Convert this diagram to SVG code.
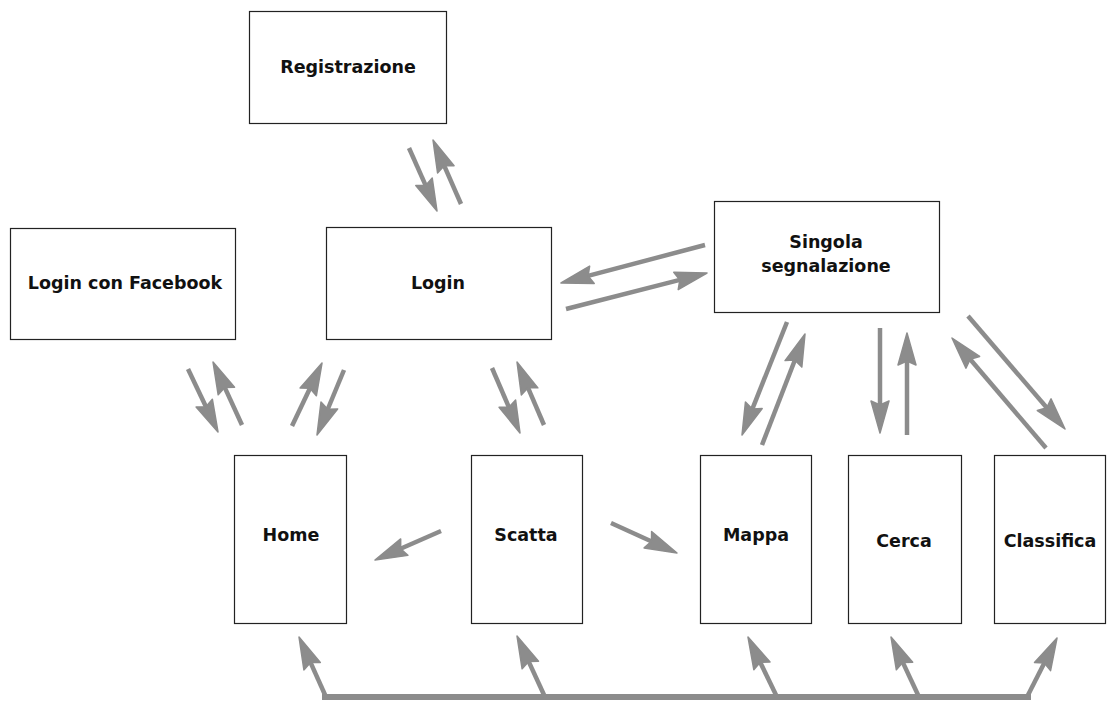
<svg xmlns="http://www.w3.org/2000/svg" xmlns:xlink="http://www.w3.org/1999/xlink" width="1111" height="708" viewBox="0 0 1111 708">
<style>
.box{fill:#fff;stroke:#222;stroke-width:1.2}
.lbl{font-family:"DejaVu Sans",sans-serif;font-weight:bold;font-size:17.5px;fill:#111;text-anchor:middle;dominant-baseline:central}
.arr{stroke:#8c8c8c;stroke-width:4.5;fill:none}
.bus{stroke:#8c8c8c;stroke-width:6;fill:none;stroke-linecap:square}
.hd{fill:#8c8c8c;stroke:#8c8c8c;stroke-width:1.5;stroke-linejoin:round}
</style>
<defs>
<polygon id="head" class="hd" points="0,0 -32,-9 -28,0 -32,9"/>
</defs>
<rect width="1111" height="708" fill="#fff"/>
<g id="connectors">
<line class="arr" x1="409" y1="148" x2="426.4" y2="187.2"/><use href="#head" xlink:href="#head" transform="translate(437,211) rotate(66.05)"/>
<line class="arr" x1="461" y1="204" x2="443.4" y2="163.8"/><use href="#head" xlink:href="#head" transform="translate(433,140) rotate(-113.6)"/>
<line class="arr" x1="188" y1="369" x2="206.8" y2="408.5"/><use href="#head" xlink:href="#head" transform="translate(218,432) rotate(64.5)"/>
<line class="arr" x1="242" y1="425" x2="223.9" y2="385.6"/><use href="#head" xlink:href="#head" transform="translate(213,362) rotate(-114.7)"/>
<line class="arr" x1="292" y1="426" x2="310.8" y2="386.5"/><use href="#head" xlink:href="#head" transform="translate(322,363) rotate(-64.5)"/>
<line class="arr" x1="344" y1="370" x2="327" y2="411"/><use href="#head" xlink:href="#head" transform="translate(317,435) rotate(112.6)"/>
<line class="arr" x1="492" y1="368" x2="509.7" y2="409.1"/><use href="#head" xlink:href="#head" transform="translate(520,433) rotate(66.7)"/>
<line class="arr" x1="544" y1="425" x2="527.2" y2="385.9"/><use href="#head" xlink:href="#head" transform="translate(517,362) rotate(-113.2)"/>
<line class="arr" x1="705" y1="245" x2="586.1" y2="276.4"/><use href="#head" xlink:href="#head" transform="translate(561,283) rotate(165.2)"/>
<line class="arr" x1="566" y1="309" x2="681.8" y2="279.4"/><use href="#head" xlink:href="#head" transform="translate(707,273) rotate(-14.3)"/>
<line class="arr" x1="787" y1="322" x2="751.6" y2="410.8"/><use href="#head" xlink:href="#head" transform="translate(742,435) rotate(111.7)"/>
<line class="arr" x1="762" y1="445" x2="795.6" y2="358.3"/><use href="#head" xlink:href="#head" transform="translate(805,334) rotate(-68.8)"/>
<line class="arr" x1="880" y1="328" x2="880" y2="407"/><use href="#head" xlink:href="#head" transform="translate(880,433) rotate(90)"/>
<line class="arr" x1="907" y1="435" x2="907" y2="359"/><use href="#head" xlink:href="#head" transform="translate(907,333) rotate(-90)"/>
<line class="arr" x1="1046" y1="448" x2="968.9" y2="357.8"/><use href="#head" xlink:href="#head" transform="translate(952,338) rotate(-130.5)"/>
<line class="arr" x1="968" y1="316" x2="1048.1" y2="409.3"/><use href="#head" xlink:href="#head" transform="translate(1065,429) rotate(49.4)"/>
<line class="arr" x1="441" y1="531" x2="398.8" y2="549.5"/><use href="#head" xlink:href="#head" transform="translate(375,560) rotate(156.3)"/>
<line class="arr" x1="611" y1="523" x2="653.3" y2="542.2"/><use href="#head" xlink:href="#head" transform="translate(677,553) rotate(24.5)"/>
<line class="bus" x1="325" y1="697" x2="1028" y2="697"/>
<line class="arr" x1="326" y1="697" x2="309.7" y2="660.7"/><use href="#head" xlink:href="#head" transform="translate(299,637) rotate(-114.2)"/>
<line class="arr" x1="545" y1="697" x2="527.8" y2="659.6"/><use href="#head" xlink:href="#head" transform="translate(517,636) rotate(-114.6)"/>
<line class="arr" x1="777" y1="697" x2="759.3" y2="660.4"/><use href="#head" xlink:href="#head" transform="translate(748,637) rotate(-115.8)"/>
<line class="arr" x1="919" y1="697" x2="902" y2="660.6"/><use href="#head" xlink:href="#head" transform="translate(891,637) rotate(-115)"/>
<line class="arr" x1="1027" y1="697" x2="1045.2" y2="661.2"/><use href="#head" xlink:href="#head" transform="translate(1057,638) rotate(-63.1)"/>
</g>
<g id="registrazione"><rect class="box" x="249.5" y="11.5" width="197" height="112"/><text class="lbl" x="348" y="67">Registrazione</text></g>
<g id="login-facebook"><rect class="box" x="10.5" y="228.5" width="225" height="111"/><text class="lbl" x="125" y="283">Login con Facebook</text></g>
<g id="login"><rect class="box" x="326.5" y="227.5" width="225" height="112"/><text class="lbl" x="438" y="283">Login</text></g>
<g id="singola"><rect class="box" x="714.5" y="201.5" width="225" height="111"/><text class="lbl" x="826" y="242">Singola</text><text class="lbl" x="826" y="266">segnalazione</text></g>
<g id="home"><rect class="box" x="234.5" y="455.5" width="112" height="168"/><text class="lbl" x="291" y="535">Home</text></g>
<g id="scatta"><rect class="box" x="471.5" y="455.5" width="111" height="168"/><text class="lbl" x="526" y="535">Scatta</text></g>
<g id="mappa"><rect class="box" x="700.5" y="455.5" width="111" height="168"/><text class="lbl" x="756" y="535">Mappa</text></g>
<g id="cerca"><rect class="box" x="848.5" y="455.5" width="113" height="168"/><text class="lbl" x="904" y="541">Cerca</text></g>
<g id="classifica"><rect class="box" x="994.5" y="455.5" width="111" height="168"/><text class="lbl" x="1050" y="541">Classifica</text></g>
</svg>
